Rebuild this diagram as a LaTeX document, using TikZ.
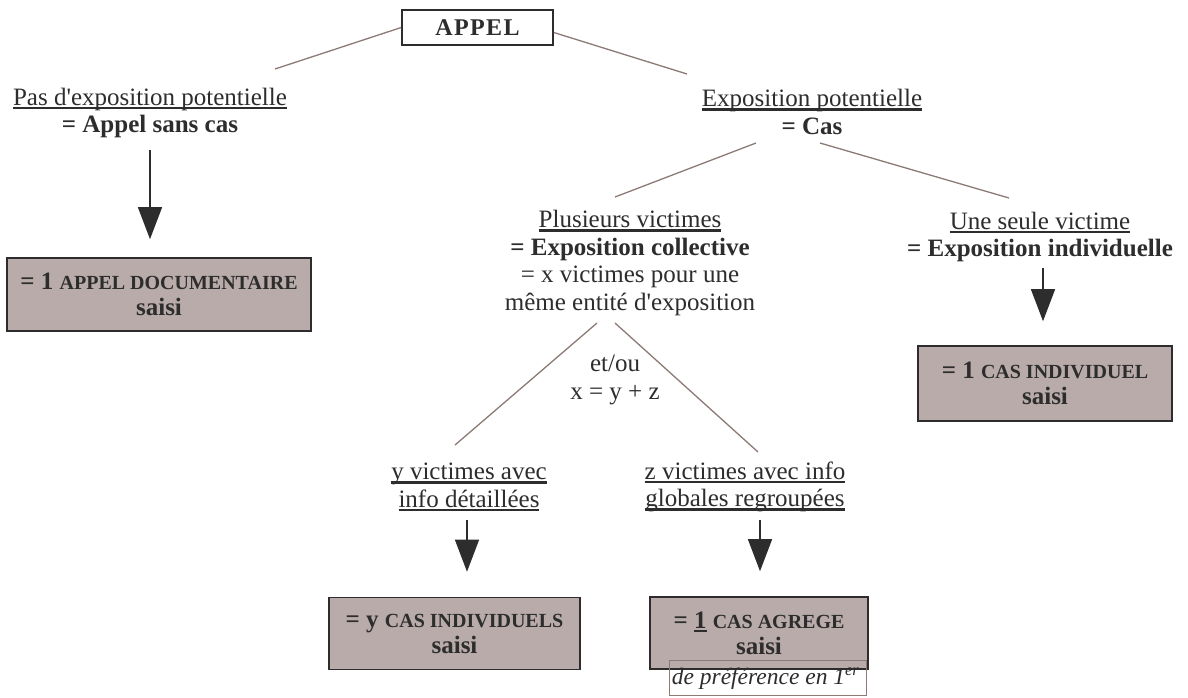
\documentclass[tikz,border=0pt]{standalone}
\usepackage{fontspec}
\setmainfont{Liberation Serif}
\usetikzlibrary{arrows.meta}
\definecolor{boxfill}{RGB}{184,171,169}
\definecolor{connc}{RGB}{140,122,118}
\definecolor{ink}{RGB}{45,45,45}
\newcommand\myul[1]{\setbox0\hbox{#1}\leavevmode\rlap{\color{ink}\rule[-4pt]{\wd0}{2.4pt}}\box0\relax}
\newcommand\capsf[1]{{\fontsize{20}{22}\selectfont #1}}
\newcommand\q{\textquotesingle}
\tikzset{
  txt/.style={align=center, text=ink, font=\fontsize{25}{27.5}\selectfont, inner sep=0pt},
  res/.style={draw=ink, line width=1.6pt, fill=boxfill, align=center, text=ink, font=\bfseries\fontsize{25}{26}\selectfont, inner sep=0pt},
  conn/.style={draw=connc, line width=1.3pt},
  arr/.style={draw=ink, line width=1.3pt, -{Triangle[width=24pt,length=32pt]}},
}
\begin{document}
\begin{tikzpicture}[x=1pt,y=-1pt]
\useasboundingbox[fill=white] (0,0) rectangle (1188,697);
% top box
\node[draw=ink, line width=1.6pt, minimum width=151pt, minimum height=35pt, font=\bfseries\fontsize{24}{24}\selectfont\addfontfeature{LetterSpace=6}, text=ink] (appel) at (477.5,27.5) {APPEL};
% text nodes
\node[txt] (pas) at (150,113) {\myul{Pas d\q exposition potentielle}\\\textbf{= Appel sans cas}};
\node[txt] (expo) at (812,112) {\myul{Exposition potentielle}\\\textbf{= Cas}};
\node[txt] (plus) at (630,263) {\myul{Plusieurs victimes}\\\textbf{= Exposition collective}\\= x victimes pour une\\même entité d\q exposition};
\node[txt] (une) at (1040,237) {\myul{Une seule victime}\\\textbf{= Exposition individuelle}};
\node[txt] (etou) at (615,380) {et/ou\\x = y + z};
\node[txt] (yv) at (469,487) {\myul{y victimes avec}\\\myul{info détaillées}};
\node[txt] (zv) at (745,487) {\myul{z victimes avec info}\\\myul{globales regroupées}};
% result boxes
\node[res, minimum width=304pt, minimum height=73pt] (doc) at (159,294.5) {= 1 \capsf{APPEL DOCUMENTAIRE}\\saisi};
\node[res, minimum width=254pt, minimum height=75pt] (ind) at (1045,383.5) {= 1 \capsf{CAS INDIVIDUEL}\\saisi};
\node[res, minimum width=251pt, minimum height=72pt] (ycas) at (454.5,633.5) {= y \capsf{CAS INDIVIDUELS}\\saisi};
\node[res, minimum width=218pt, minimum height=72pt] (agr) at (759,633) {= \myul{1} \capsf{CAS AGREGE}\\saisi};
\node[draw=connc, line width=0.8pt, minimum width=197pt, minimum height=35pt, inner sep=0pt] (pref) at (767.5,677.5) {};
\node[anchor=west, inner sep=0pt, font=\itshape\fontsize{23.5}{23.5}\selectfont, text=ink] (preft) at ([xshift=3pt,yshift=-1pt]pref.west) {de préférence en 1\textsuperscript{er}};
% connector free ends
\coordinate (pasTop) at (275,69);
\coordinate (expoTop) at (687,74);
\coordinate (casL) at (756,143);
\coordinate (casR) at (820,143);
\coordinate (plusTop) at (615,197);
\coordinate (uneTop) at (1009,198);
\coordinate (plusL) at (597,323);
\coordinate (plusR) at (615,323);
\coordinate (yTop) at (455,445);
\coordinate (zTop) at (758,452);
\draw[conn] (appel.west) -- (pasTop);
\draw[conn] ([yshift=-5pt]appel.east) -- (expoTop);
\draw[conn] (casL) -- (plusTop);
\draw[conn] (casR) -- (uneTop);
\draw[conn] (plusL) -- (yTop);
\draw[conn] (plusR) -- (zTop);
% arrows
\coordinate (a1) at (150,150);
\coordinate (a2) at (1043,268);
\coordinate (a3) at (467,520);
\coordinate (a4) at (760,520);
\draw[arr, shorten >=18pt] (a1) -- (a1 |- doc.north);
\draw[arr, shorten >=24pt] (a2) -- (a2 |- ind.north);
\draw[arr, shorten >=25pt] (a3) -- (a3 |- ycas.north);
\draw[arr, shorten >=25pt] (a4) -- (a4 |- agr.north);
\end{tikzpicture}
\end{document}
